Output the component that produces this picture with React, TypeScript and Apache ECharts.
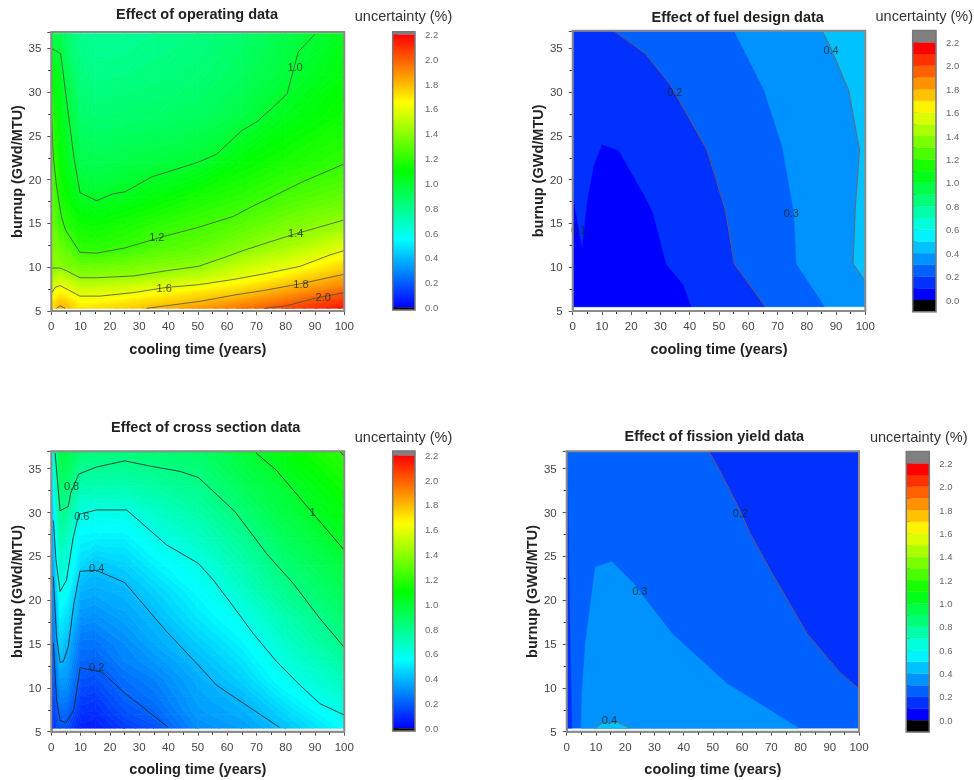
import React, { useEffect, useRef } from "react";
import * as echarts from "echarts";

const coolingNodes = [0, 3, 5, 10, 15, 25, 35, 50, 65, 80, 100];

// Panel A: operating data
const opBurnup = [5.3, 6, 7, 8, 9, 10, 12, 15, 18, 22, 27, 32, 36.7];
const opValues = [
  [1.72, 1.8, 1.8, 1.7, 1.72, 1.75, 1.8, 1.87, 1.95, 2.05, 2.15],
  [1.7, 1.77, 1.76, 1.65, 1.66, 1.7, 1.74, 1.8, 1.88, 1.97, 2.1],
  [1.6, 1.68, 1.66, 1.58, 1.59, 1.6, 1.65, 1.71, 1.77, 1.87, 2.01],
  [1.52, 1.6, 1.58, 1.5, 1.5, 1.52, 1.56, 1.6, 1.68, 1.78, 1.9],
  [1.44, 1.5, 1.47, 1.4, 1.4, 1.41, 1.45, 1.5, 1.59, 1.68, 1.82],
  [1.4, 1.4, 1.37, 1.33, 1.33, 1.35, 1.38, 1.41, 1.53, 1.6, 1.74],
  [1.38, 1.33, 1.3, 1.2, 1.19, 1.22, 1.27, 1.31, 1.39, 1.47, 1.6],
  [1.33, 1.22, 1.18, 1.12, 1.11, 1.14, 1.18, 1.23, 1.28, 1.35, 1.42],
  [1.29, 1.16, 1.11, 1.03, 1.01, 1.04, 1.08, 1.14, 1.19, 1.25, 1.31],
  [1.25, 1.1, 1.05, 0.94, 0.93, 0.95, 0.97, 1.0, 1.09, 1.15, 1.2],
  [1.2, 1.05, 1.01, 0.88, 0.86, 0.87, 0.88, 0.9, 0.96, 1.05, 1.13],
  [1.1, 1.03, 0.94, 0.83, 0.81, 0.82, 0.83, 0.85, 0.9, 0.98, 1.08],
  [0.95, 0.93, 0.87, 0.8, 0.78, 0.78, 0.8, 0.82, 0.87, 0.95, 1.04],
];
const opLine10 = [[90, 36.6], [84.3, 34.6], [82.6, 32.5], [80.5, 29.8], [75.8, 28.3], [70.1, 26.6], [65, 25.6], [56.4, 22.9], [50.2, 22], [34.2, 20.3], [25.1, 18.6], [21.2, 18.4], [15.5, 17.6], [9.8, 18.5], [7.7, 22.6], [5.2, 29.1], [3.2, 34.4], [0, 35]];
const opLine12 = [[100, 21.8], [85.4, 19.7], [75.2, 18], [69.5, 17.1], [62.1, 15.8], [49.6, 14.5], [38.2, 13.5], [25.1, 12.2], [15.5, 11.6], [9.8, 11.7], [4.9, 14.2], [3.5, 15.7], [1.8, 19.2], [0.7, 22.6], [0.1, 27.2]];
const opLine14 = [[100, 15.4], [83.2, 13.8], [74.6, 12.9], [65.5, 11.9], [59.8, 11.2], [50.2, 10.1], [39.4, 9.6], [28, 9], [15.5, 8.8], [9.8, 8.8], [5.2, 9.6], [3, 9.9], [0, 9.9]];
const opLine16 = [[100, 11.9], [95.1, 11.4], [84.9, 10.1], [73.5, 9.3], [62.1, 8.6], [50.2, 8], [39.4, 7.7], [28, 7.1], [16.6, 6.7], [9.8, 6.7], [3, 7.9], [1.3, 7.7], [0, 7]];
const opLine18 = [[100, 9.2], [84.9, 8.1], [73.5, 7.4], [62.1, 6.8], [50.7, 6.1], [39.4, 5.6], [32.5, 5.3]];
const opLine18b = [[1.8, 5.3], [3, 5.6], [4.7, 5.3]];
const opLine20 = [[100, 7.1], [90.6, 6.5], [80.3, 5.6], [72.9, 5.3]];
const opLabels = [["1.0", 83.2, 32.9], ["1.2", 36, 13.4], ["1.4", 83.4, 13.9], ["1.6", 38.5, 7.6], ["1.8", 85.2, 8.1], ["2.0", 92.8, 6.6]];

// Panel B: fuel design data
const fuelLine01 = [[0, 18.1], [3.2, 12], [4.9, 17.3], [7.2, 21.5], [10, 24], [15.7, 23.3], [25.2, 17.7], [27.3, 16.2], [31.9, 10.3], [37.7, 8], [40.4, 5.5]];
const fuelLine02 = [[14, 37], [24.8, 34.4], [33.4, 30.8], [45.9, 23.4], [52.2, 16.5], [55.2, 10.4], [65.8, 5.5]];
const fuelLine03 = [[55, 37], [58.4, 34.8], [65.3, 30.2], [71.5, 23.8], [75.5, 16.2], [76.3, 10.4], [86, 5.5]];
const fuelLine04 = [[85.2, 37], [88, 35.2], [94.3, 30.2], [98, 23.4], [96.6, 16.9], [95.8, 10.4], [100, 8.4]];
const fuelLabels = [["0.1", 2, 14.25], ["0.2", 34.9, 30], ["0.3", 74.7, 16.2], ["0.4", 88.3, 34.8]];

// Panel C: cross section data
const xsBurnup = [5.4, 7, 9, 11, 13, 15, 18, 21, 24, 27, 30, 33, 37];
const xsValues = [
  [0.1, 0.17, 0.17, 0.07, 0.06, 0.12, 0.17, 0.3, 0.34, 0.42, 0.55],
  [0.11, 0.22, 0.22, 0.1, 0.09, 0.17, 0.21, 0.33, 0.37, 0.46, 0.6],
  [0.12, 0.28, 0.28, 0.14, 0.13, 0.21, 0.25, 0.35, 0.4, 0.52, 0.65],
  [0.13, 0.34, 0.33, 0.18, 0.17, 0.24, 0.28, 0.37, 0.45, 0.58, 0.7],
  [0.15, 0.4, 0.37, 0.22, 0.21, 0.28, 0.32, 0.4, 0.49, 0.62, 0.75],
  [0.17, 0.45, 0.41, 0.25, 0.25, 0.3, 0.36, 0.44, 0.53, 0.66, 0.81],
  [0.2, 0.52, 0.49, 0.32, 0.31, 0.35, 0.4, 0.5, 0.59, 0.72, 0.86],
  [0.24, 0.6, 0.57, 0.38, 0.37, 0.39, 0.45, 0.55, 0.66, 0.8, 0.92],
  [0.28, 0.65, 0.62, 0.47, 0.42, 0.45, 0.52, 0.6, 0.72, 0.85, 0.97],
  [0.32, 0.72, 0.69, 0.53, 0.52, 0.52, 0.59, 0.67, 0.78, 0.91, 1.03],
  [0.38, 0.79, 0.78, 0.61, 0.6, 0.6, 0.66, 0.74, 0.85, 0.96, 1.08],
  [0.45, 0.86, 0.86, 0.72, 0.72, 0.72, 0.75, 0.8, 0.91, 1.0, 1.13],
  [0.55, 0.95, 0.95, 0.86, 0.84, 0.84, 0.86, 0.88, 0.98, 1.08, 1.2],
];
const xsLine10 = [[69.9, 36.8], [76.9, 34.8], [88.3, 30.3], [100, 25.7]];
const xsLine12 = [[98.5, 37], [100, 36.4]];
const xsLine08 = [[1.3, 36.8], [3, 30.2], [5.8, 30.7], [6.6, 32.2], [9.4, 34.4], [15.5, 35.2], [25.1, 35.9], [33.7, 35.3], [43.9, 34.7], [50.2, 34], [62.7, 30.1], [73.5, 25.3], [82.6, 21.9], [91.7, 17.9], [100, 14.6]];
const xsLine06 = [[100, 6.9], [91.7, 8.2], [84.9, 10.3], [76.9, 13], [68.9, 16.2], [62.1, 19.3], [55.3, 22.3], [50.2, 24.2], [39.4, 26.3], [25.7, 30.3], [15.5, 30.3], [9.4, 29.8], [7.5, 27.2], [5.2, 22.3], [3, 21], [1.6, 24.6], [0.7, 29.1]];
const xsLine04 = [[77.8, 5.5], [68.9, 7.5], [56.4, 10.3], [49.6, 12.8], [39.4, 16.4], [25.1, 22], [15.5, 23.4], [9.8, 23.3], [7.7, 19.6], [5.8, 14.7], [4.1, 13], [3, 12.9], [1.8, 15.8], [0.7, 22.7]];
const xsLine02 = [[39.9, 5.5], [25.1, 9.4], [17.2, 11.8], [9.8, 12.3], [7.7, 7.5], [5, 6], [3, 6.3], [1.8, 8.6], [0.7, 15.1]];
const xsLabels = [["0.8", 6.9, 33], ["0.6", 10.4, 29.6], ["0.4", 15.5, 23.7], ["0.2", 15.5, 12.4], ["1", 89.2, 30.1]];

// Panel D: fission yield data
const yieldLine02 = [[48.6, 37], [52, 35], [58.3, 30.9], [62.8, 27.6], [69.7, 23.4], [82.2, 16.2], [93.6, 11.7], [100, 9.9]];
const yieldLobe03 = [[4.9, 5.4], [5.2, 9.4], [6.4, 15.1], [9.8, 23.8], [15.5, 24.4], [22.9, 21.9], [36, 16.2], [54.8, 10.5], [79.4, 5.4]];
const yieldLobe04 = [[9.8, 5.4], [12.1, 6], [17.2, 6.1], [21.8, 5.4]];
const yieldStrip = [[0, 5.4], [1.8, 5.4], [1, 18.9], [0.2, 37], [0, 37]];
const yieldLabels = [["0.2", 59.4, 30], ["0.3", 25, 21.1], ["0.4", 14.6, 6.3]];

// Scale
const barTicks = [0, 2.2];
const discreteColours = ["#0000ff", "#0031ff", "#0061ff", "#0092ff", "#00c2ff", "#00f3ff", "#00ffdb", "#00ffaa", "#00ff79", "#00ff49", "#00ff18", "#18ff00", "#49ff00", "#79ff00", "#aaff00", "#dbff00", "#fff300", "#ffc200", "#ff9200", "#ff6100", "#ff3100", "#ff0000"];
const rainbowStops: [number, number[]][] = [[0, [0, 0, 255]], [0.55, [0, 255, 255]], [1.1, [0, 255, 0]], [1.65, [255, 255, 0]], [2.2, [255, 0, 0]]];

function rainbow(v: number) {
  for (let i = 1; i < rainbowStops.length; i++) {
    const [a, ca] = rainbowStops[i - 1];
    const [b, cb] = rainbowStops[i];
    if (v <= b) {
      const t = Math.max(0, (v - a) / (b - a));
      return `rgb(${ca.map((c, k) => Math.round(c + (cb[k] - c) * t)).join(",")})`;
    }
  }
  return "rgb(255,0,0)";
}

type V = [number, number, number];
function clipBand(poly: V[], level: number, above: boolean): V[] {
  const out: V[] = [];
  const inside = (p: V) => (above ? p[2] >= level : p[2] <= level);
  for (let i = 0; i < poly.length; i++) {
    const p = poly[i], q = poly[(i + 1) % poly.length];
    if (inside(p)) out.push(p);
    if (inside(p) !== inside(q)) {
      const t = (level - p[2]) / (q[2] - p[2]);
      out.push([p[0] + (q[0] - p[0]) * t, p[1] + (q[1] - p[1]) * t, level]);
    }
  }
  return out;
}

const BAND = 0.02;
function tableSeries(xAxisIndex: number, xs: number[], ys: number[], table: number[][]) {
  const data: number[][] = [];
  for (let j = 0; j + 1 < ys.length; j++)
    for (let i = 0; i + 1 < xs.length; i++)
      data.push([xs[i], xs[i + 1], ys[j], ys[j + 1], table[j][i], table[j][i + 1], table[j + 1][i], table[j + 1][i + 1]]);
  return {
    type: "custom", xAxisIndex, yAxisIndex: xAxisIndex, data, z: 1, encode: { x: [0, 1], y: [2, 3] }, silent: true,
    renderItem: (_: any, api: any) => {
      const [x0, x1, y0, y1, a, b, c, d] = [0, 1, 2, 3, 4, 5, 6, 7].map((k) => api.value(k));
      const tris: V[][] = Math.abs(a - d) <= Math.abs(b - c)
        ? [[[x0, y0, a], [x1, y0, b], [x1, y1, d]], [[x0, y0, a], [x1, y1, d], [x0, y1, c]]]
        : [[[x0, y0, a], [x1, y0, b], [x0, y1, c]], [[x1, y0, b], [x1, y1, d], [x0, y1, c]]];
      const children: any[] = [];
      for (const tri of tris) {
        const vs = tri.map((p) => p[2]);
        const lo = Math.floor(Math.min(...vs) / BAND);
        const hi = Math.ceil(Math.max(...vs) / BAND);
        for (let k = lo; k < hi; k++) {
          const poly = clipBand(clipBand(tri, k * BAND, true), (k + 1) * BAND, false);
          if (poly.length < 3) continue;
          const col = rainbow((k + 0.5) * BAND);
          children.push({
            type: "polygon",
            shape: { points: poly.map((p) => api.coord([p[0], p[1]])) },
            style: { fill: col, stroke: col, lineWidth: 0.7 },
          });
        }
      }
      return { type: "group", children };
    },
  };
}

function regionSeries(idx: number, pts: number[][], colour: string) {
  return {
    type: "custom", xAxisIndex: idx, yAxisIndex: idx, data: pts, z: 1, encode: { x: 0, y: 1 }, silent: true,
    renderItem: (params: any, api: any) =>
      params.dataIndex === 0
        ? { type: "polygon", shape: { points: pts.map((p) => api.coord(p)) }, style: { fill: colour, stroke: colour, lineWidth: 0.4 } }
        : null,
  };
}

function lineSeries(idx: number, pts: number[][], colour: string) {
  return {
    type: "line", xAxisIndex: idx, yAxisIndex: idx, data: pts, symbol: "none", z: 3, silent: true,
    lineStyle: { color: colour, width: 1 },
  };
}

function labelSeries(idx: number, labels: any[][]) {
  return {
    type: "scatter", xAxisIndex: idx, yAxisIndex: idx, symbolSize: 0, z: 4, silent: true,
    data: labels.map((l) => ({ name: l[0], value: [l[1], l[2]] })),
    label: { show: true, position: "inside", formatter: "{b}", fontFamily: "Liberation Sans", fontSize: 11, color: "#16281c" },
  };
}

const layout = [
  { title: "Effect of operating data", titleX: 197, titleY: 14, left: 51.3, right: 344.3, top: 32, y5: 311, yMax: 36.86, barL: 392.7, barR: 415, barTop: 34.3, barBot: 307.7, legX: 403.5, legY: 16, caps: [-0.018, 2.221] },
  { title: "Effect of fuel design data", titleX: 737.7, titleY: 17, left: 572.7, right: 865.3, top: 30.8, y5: 311, yMax: 37, barL: 912.7, barR: 936, barTop: 42.3, barBot: 300, legX: 924.3, legY: 16, caps: [-0.1, 2.3] },
  { title: "Effect of cross section data", titleX: 205.7, titleY: 427.3, left: 51.3, right: 344.3, top: 451.2, y5: 731.7, yMax: 37, barL: 392.7, barR: 415, barTop: 455.3, barBot: 728.3, legX: 403.5, legY: 436.7, caps: [-0.022, 2.235] },
  { title: "Effect of fission yield data", titleX: 714.3, titleY: 436.7, left: 566.7, right: 859, top: 451.2, y5: 731.7, yMax: 37, barL: 906.3, barR: 929.3, barTop: 463.3, barBot: 720.3, legX: 918.7, legY: 436.7, caps: [-0.1, 2.3] },
];

function buildOption() {
  const grid: any[] = [], xAxis: any[] = [], yAxis: any[] = [], title: any[] = [], series: any[] = [], graphic: any[] = [];
  const axisGrey = "#555";
  layout.forEach((p) => {
    grid.push({ left: p.left, top: p.top, width: p.right - p.left, height: p.y5 - p.top, containLabel: false });
    xAxis.push({
      type: "value", min: 0, max: 100, interval: 10, gridIndex: grid.length - 1,
      name: "cooling time (years)", nameLocation: "middle", nameGap: 30,
      nameTextStyle: { fontFamily: "Liberation Sans", fontWeight: "bold", fontSize: 14.5, color: "#222" },
      axisLine: { onZero: false, lineStyle: { color: "#777", width: 1.5 } },
      axisTick: { show: true, length: 4, lineStyle: { color: axisGrey } },
      minorTick: { show: true, splitNumber: 2, length: 3, lineStyle: { color: "#222" } },
      splitLine: { show: false }, minorSplitLine: { show: false },
      axisLabel: { fontFamily: "Liberation Sans", fontSize: 11.5, color: "#444", margin: 9 },
    });
    yAxis.push({
      type: "value", min: 5, max: p.yMax, interval: 5, gridIndex: grid.length - 1,
      name: "burnup (GWd/MTU)", nameLocation: "middle", nameGap: 27,
      nameTextStyle: { fontFamily: "Liberation Sans", fontWeight: "bold", fontSize: 14.5, color: "#222" },
      axisLine: { onZero: false, lineStyle: { color: "#777", width: 1.5 } },
      axisTick: { show: true, length: 4, lineStyle: { color: axisGrey } },
      minorTick: { show: true, splitNumber: 2, length: 3, lineStyle: { color: "#222" } },
      splitLine: { show: false }, minorSplitLine: { show: false },
      axisLabel: { fontFamily: "Liberation Sans", fontSize: 11.5, color: "#444", margin: 10, showMaxLabel: false },
    });
    title.push({ text: p.title, left: p.titleX, top: p.titleY - 8, padding: 0, textAlign: "center", textStyle: { fontFamily: "Liberation Sans", fontWeight: "bold", fontSize: 14.5, color: "#222" } });
    graphic.push({ type: "text", x: p.legX, y: p.legY, z: 10, style: { text: "uncertainty (%)", fontFamily: "Liberation Sans", fontSize: 14.5, fill: "#333", align: "center", verticalAlign: "middle" } });
    graphic.push({ type: "rect", z: 100, shape: { x: p.left, y: p.top, width: p.right - p.left, height: p.y5 - p.top }, style: { fill: "none", stroke: "#8c8c8c", lineWidth: 2 } });
  });
  // colour bars occupy grids 4..7
  layout.forEach((p, i) => {
    const g = grid.length;
    grid.push({ left: p.barL, top: p.barTop, width: p.barR - p.barL, height: p.barBot - p.barTop, containLabel: false });
    xAxis.push({ type: "value", min: 0, max: 1, gridIndex: g, show: false });
    yAxis.push({
      type: "value", min: barTicks[0], max: barTicks[1], interval: 0.2, gridIndex: g, position: "right",
      axisLine: { show: false },
      axisTick: { show: true, length: 6, lineStyle: { color: "#777" } },
      minorTick: { show: true, splitNumber: 2, length: 4, lineStyle: { color: "#222" } },
      splitLine: { show: false }, minorSplitLine: { show: false },
      axisLabel: { fontFamily: "Liberation Sans", fontSize: 9.5, color: "#666", margin: 10, formatter: (v: number) => v.toFixed(1) },
    });
    const smooth = i === 0 || i === 2;
    const bands: any[][] = smooth
      ? [[0, 2.2, "grad"]]
      : discreteColours.map((c, k) => [k / 10, (k + 1) / 10, c]);
    bands.push([p.caps[0], 0, "#000000"], [2.2, p.caps[1], "#808080"]);
    series.push({
      type: "custom", xAxisIndex: g, yAxisIndex: g, z: 2, silent: true, encode: { y: [0, 1] },
      data: bands.map((b) => [b[0], b[1]]),
      renderItem: (params: any, api: any) => {
        const a = api.coord([0, api.value(0)]);
        const b = api.coord([1, api.value(1)]);
        const c = bands[params.dataIndex][2];
        const fill = c === "grad"
          ? new echarts.graphic.LinearGradient(0, 1, 0, 0, rainbowStops.map(([v, col]) => ({ offset: v / 2.2, color: `rgb(${col.join(",")})` })))
          : c;
        return { type: "rect", shape: { x: a[0], y: b[1], width: b[0] - a[0], height: a[1] - b[1] }, style: { fill, stroke: c === "grad" ? undefined : fill, lineWidth: 0.3 } };
      },
    });
    const [t, bt] = [p.barTop - (p.caps[1] - 2.2) * ((p.barBot - p.barTop) / 2.2), p.barBot - p.caps[0] * ((p.barBot - p.barTop) / 2.2)];
    graphic.push({ type: "rect", z: 100, shape: { x: p.barL, y: t, width: p.barR - p.barL, height: bt - t }, style: { fill: "none", stroke: "#777", lineWidth: 1.5 } });
  });

  const op = "rgba(70,80,60,0.8)", dark = "rgba(15,40,45,0.85)", soft = "rgba(120,95,95,0.8)";
  // Panel A
  series.push(tableSeries(0, coolingNodes, opBurnup, opValues));
  [opLine10, opLine12, opLine14, opLine16, opLine18, opLine18b, opLine20].forEach((l) => series.push(lineSeries(0, l, op)));
  series.push(labelSeries(0, opLabels));
  // Panel B
  const c = discreteColours;
  series.push(regionSeries(1, [[0, 5.5], [100, 5.5], [100, 37], [0, 37]], c[4]));
  series.push(regionSeries(1, [...fuelLine04, [100, 5.5], [0, 5.5], [0, 37]], c[3]));
  series.push(regionSeries(1, [...fuelLine03, [0, 5.5], [0, 37]], c[2]));
  series.push(regionSeries(1, [...fuelLine02, [0, 5.5], [0, 37]], c[1]));
  series.push(regionSeries(1, [...fuelLine01, [0, 5.5]], c[0]));
  [fuelLine02, fuelLine04].forEach((l) => series.push(lineSeries(1, l, soft)));
  series.push(labelSeries(1, fuelLabels));
  // Panel C
  series.push(tableSeries(2, coolingNodes, xsBurnup, xsValues));
  [xsLine10, xsLine12, xsLine08, xsLine06, xsLine04, xsLine02].forEach((l) => series.push(lineSeries(2, l, dark)));
  series.push(labelSeries(2, xsLabels));
  // Panel D
  series.push(regionSeries(3, [[0, 5.4], [100, 5.4], [100, 37], [0, 37]], c[2]));
  series.push(regionSeries(3, [...yieldLine02, [100, 37]], c[1]));
  series.push(regionSeries(3, yieldLobe03, c[3]));
  series.push(regionSeries(3, yieldLobe04, c[4]));
  series.push(regionSeries(3, yieldStrip, c[1]));
  [yieldLine02, yieldLobe04].forEach((l) => series.push(lineSeries(3, l, soft)));
  series.push(labelSeries(3, yieldLabels));

  return { animation: false, backgroundColor: "#fff", grid, xAxis, yAxis, title, series, graphic };
}

export default function App() {
  const ref = useRef<HTMLDivElement>(null);
  useEffect(() => {
    const chart = echarts.init(ref.current!, undefined, { renderer: "svg" });
    chart.setOption(buildOption() as any);
    return () => chart.dispose();
  }, []);
  return <div ref={ref} style={{ position: "fixed", left: 0, top: 0, width: 974, height: 780, filter: "blur(0.7px)" }} />;
}
